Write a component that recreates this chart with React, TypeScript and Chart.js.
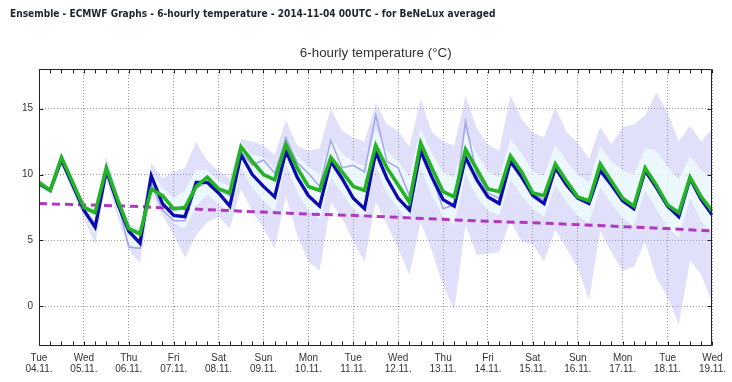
import React, { useEffect, useRef } from "react";
import { Chart, registerables } from "chart.js";

Chart.register(...registerables);

const TITLE = "Ensemble - ECMWF Graphs - 6-hourly temperature - 2014-11-04 00UTC - for BeNeLux averaged";
const SUBTITLE = "6-hourly temperature (\u00B0C)";

const dayNames = ["Tue", "Wed", "Thu", "Fri", "Sat", "Sun", "Mon", "Tue", "Wed", "Thu", "Fri", "Sat", "Sun", "Mon", "Tue", "Wed"];
const dayDates = ["04.11.", "05.11.", "06.11.", "07.11.", "08.11.", "09.11.", "10.11.", "11.11.", "12.11.", "13.11.", "14.11.", "15.11.", "16.11.", "17.11.", "18.11.", "19.11."];
const yTickValues = [0, 5, 10, 15];

// 6-hourly steps (61 values, 04.11. 00UTC .. 19.11. 00UTC)
const blueSeries = [
  9.3, 8.8, 11.1, 9.2, 7.3, 6.0, 10.3, 7.8, 5.7, 4.8, 9.9, 7.8,
  6.9, 6.8, 9.4, 9.4, 8.6, 7.6, 11.5, 10.0, 9.1, 8.3, 11.8, 9.8,
  8.4, 7.6, 11.0, 9.7, 8.2, 7.4, 11.7, 9.7, 8.2, 7.3, 11.8, 9.8,
  8.1, 7.6, 11.3, 9.6, 8.3, 7.8, 11.0, 9.8, 8.4, 7.8, 10.5, 9.2,
  8.2, 7.8, 10.3, 9.2, 8.0, 7.4, 10.3, 9.0, 7.6, 6.8, 9.7, 8.1,
  6.9,
];
const greenSeries = [
  9.4, 8.8, 11.3, 9.4, 7.5, 7.1, 10.5, 8.1, 5.9, 5.5, 8.9, 8.4,
  7.4, 7.5, 9.1, 9.8, 8.9, 8.6, 12.1, 11.0, 10.0, 9.6, 12.3, 10.5,
  9.1, 8.8, 11.3, 10.2, 9.1, 8.8, 12.2, 10.5, 9.2, 7.9, 12.4, 10.5,
  8.7, 8.3, 11.9, 10.4, 8.9, 8.7, 11.4, 10.2, 8.6, 8.4, 10.8, 9.5,
  8.3, 8.0, 10.8, 9.5, 8.2, 7.6, 10.5, 9.2, 7.7, 7.1, 9.8, 8.3,
  7.2,
];
const lilacSeries = [
  9.4, 8.8, 11.2, 9.3, 7.3, 6.3, 10.6, 8.0, 4.5, 4.4, 9.3, 7.3,
  6.5, 6.5, 9.0, 9.4, 8.9, 8.4, 11.7, 10.7, 11.1, 10.1, 12.8, 10.9,
  10.1, 9.1, 12.6, 10.5, 10.7, 10.2, 14.5, 11.0, 10.5, 8.4, 12.2, 9.9,
  7.4, 7.7, 14.0, 10.0, 8.6, 8.2, 11.2, 10.0, 8.5, 8.1, 10.6, 9.3,
  8.2, 7.9, 10.5, 9.3, 8.1, 7.5, 10.4, 9.1, 7.6, 7.0, 9.7, 8.2,
  7.0,
];
const spreadMax = [
  9.7, 9.1, 11.6, 9.8, 7.8, 7.3, 11.3, 8.6, 6.3, 5.8, 10.9, 9.7,
  10.2, 10.5, 12.5, 11.0, 10.3, 9.7, 12.7, 12.5, 12.2, 11.5, 14.1, 12.2,
  11.8, 12.0, 15.0, 13.3, 12.8, 12.5, 15.4, 13.8, 13.3, 12.1, 15.7, 13.2,
  12.5, 12.2, 16.0, 13.5, 12.3, 11.8, 16.0, 14.2, 13.2, 12.8, 15.1, 13.2,
  12.4, 11.2, 13.6, 12.3, 13.6, 13.8, 14.5, 16.2, 14.7, 12.5, 13.7, 12.5,
  13.5,
];
const spreadMin = [
  9.0, 8.5, 10.8, 8.7, 6.7, 4.7, 9.6, 6.8, 4.3, 3.3, 8.6, 6.9,
  5.4, 3.7, 5.4, 6.4, 6.8, 5.9, 8.9, 7.2, 5.9, 4.4, 8.4, 5.4,
  3.4, 2.7, 7.9, 6.7, 4.9, 3.4, 7.9, 6.2, 4.4, 2.4, 6.4, 4.2,
  1.6, -0.3, 6.2, 3.9, 4.0, 4.1, 6.5, 4.9, 4.7, 3.4, 5.8, 4.4,
  2.9, 0.5, 5.7, 4.1, 2.7, 3.0, 4.9, 2.2, 0.7, -1.4, 3.5, 2.4,
  0.2,
];
const quartileHigh = [
  9.6, 9.0, 11.5, 9.6, 7.6, 7.2, 10.8, 8.3, 6.1, 5.6, 10.2, 9.0,
  8.2, 8.8, 10.4, 10.3, 9.5, 9.1, 12.4, 11.5, 11.3, 10.5, 13.0, 11.4,
  10.6, 10.0, 12.8, 11.6, 11.0, 10.6, 13.4, 11.8, 11.0, 9.8, 13.5, 11.6,
  10.2, 9.8, 13.2, 11.6, 10.2, 9.8, 12.7, 11.6, 10.2, 9.9, 12.3, 11.0,
  10.0, 9.4, 12.2, 11.0, 10.3, 10.0, 12.0, 11.8, 10.6, 9.6, 11.4, 10.3,
  9.8,
];
const quartileLow = [
  9.1, 8.6, 10.9, 9.0, 7.0, 5.5, 10.0, 7.3, 4.8, 4.2, 8.8, 7.2,
  6.3, 5.9, 7.6, 8.5, 7.8, 7.0, 10.5, 9.0, 8.0, 7.2, 10.8, 8.6,
  7.3, 6.6, 9.8, 8.6, 7.4, 6.7, 10.6, 8.6, 7.4, 6.4, 10.5, 8.4,
  6.8, 6.2, 10.0, 8.3, 7.3, 6.9, 9.6, 8.4, 7.4, 6.8, 9.2, 7.9,
  6.9, 6.3, 9.0, 7.8, 6.7, 6.1, 8.8, 7.4, 6.0, 5.2, 8.2, 6.5,
  5.4,
];
// daily values (00UTC of each day)
const climateSeries = [7.8, 7.7, 7.6, 7.45, 7.3, 7.15, 7.0, 6.9, 6.75, 6.6, 6.45, 6.35, 6.2, 6.05, 5.9, 5.72];

const stepsPerDay = 4;

const toPts = (arr: number[]) => arr.map((v, i) => ({ x: i, y: v }));

const framePlugin = {
  id: "frameTicks",
  afterDatasetsDraw(chart: any) {
    const { ctx, chartArea: a, scales } = chart;
    ctx.save();
    ctx.strokeStyle = "#222";
    ctx.lineWidth = 1;
    const L = Math.round(a.left) + 0.5;
    const R = Math.round(a.right) - 0.5;
    const T = Math.round(a.top) + 0.5;
    const B = Math.round(a.bottom) - 0.5;
    ctx.beginPath();
    ctx.rect(L, T, R - L, B - T);
    ctx.stroke();
    ctx.beginPath();
    const n = blueSeries.length;
    for (let i = 0; i < n; i++) {
      const px = Math.round(scales.x.getPixelForValue(i)) + 0.5;
      ctx.moveTo(px, B);
      ctx.lineTo(px, B - 4);
      ctx.moveTo(px, T);
      ctx.lineTo(px, T + 4);
    }
    yTickValues.forEach((v) => {
      const py = Math.round(scales.y.getPixelForValue(v)) + 0.5;
      ctx.moveTo(L, py);
      ctx.lineTo(L + 4, py);
      ctx.moveTo(R, py);
      ctx.lineTo(R - 4, py);
    });
    ctx.stroke();
    ctx.restore();
  },
};

const titlePlugin = {
  id: "titles",
  afterDraw(chart: any) {
    const { ctx, chartArea: a } = chart;
    ctx.save();
    const fam1 = '"DejaVu Sans Condensed", "DejaVu Sans", sans-serif';
    ctx.font = `bold 10px ${fam1}`;
    const w1 = ctx.measureText(TITLE).width;
    const s1 = Math.min(11, (10 * 486) / w1);
    ctx.font = `bold ${s1}px ${fam1}`;
    ctx.fillStyle = "#1c2430";
    ctx.textAlign = "left";
    ctx.textBaseline = "alphabetic";
    ctx.fillText(TITLE, 10, 17);

    const fam2 = '"Liberation Sans", Arial, sans-serif';
    ctx.font = `12px ${fam2}`;
    const w2 = ctx.measureText(SUBTITLE).width;
    const s2 = Math.min(14, (12 * 152) / w2);
    ctx.font = `${s2}px ${fam2}`;
    ctx.fillStyle = "#333";
    ctx.textAlign = "center";
    ctx.fillText(SUBTITLE, (a.left + a.right) / 2, 57);
    ctx.restore();
  },
};

export default function App() {
  const ref = useRef<HTMLCanvasElement | null>(null);

  useEffect(() => {
    if (!ref.current) return;
    const lineBase = { pointRadius: 0, tension: 0, borderJoinStyle: "miter" as const };
    const chart = new Chart(ref.current, {
      type: "line",
      data: {
        datasets: [
          {
            label: "control",
            data: toPts(greenSeries),
            borderColor: "#22b422",
            borderWidth: 3.6,
            fill: false,
            order: 0,
            ...lineBase,
          },
          {
            label: "hres",
            data: toPts(blueSeries),
            borderColor: "#0a0ab0",
            borderWidth: 3.3,
            fill: false,
            order: 1,
            ...lineBase,
          },
          {
            label: "climate",
            data: climateSeries.map((v, d) => ({ x: d * stepsPerDay, y: v })),
            borderColor: "#b238c2",
            borderWidth: 3,
            borderDash: [8, 5],
            fill: false,
            order: 2,
            ...lineBase,
          },
          {
            label: "median",
            data: toPts(lilacSeries),
            borderColor: "#a6a6ec",
            borderWidth: 1.6,
            fill: false,
            order: 3,
            ...lineBase,
          },
          {
            label: "q75",
            data: toPts(quartileHigh),
            borderWidth: 0,
            borderColor: "rgba(0,0,0,0)",
            backgroundColor: "rgba(240,255,255,0.75)",
            fill: "+1",
            order: 4,
            ...lineBase,
          },
          {
            label: "q25",
            data: toPts(quartileLow),
            borderWidth: 0,
            borderColor: "rgba(0,0,0,0)",
            fill: false,
            order: 5,
            ...lineBase,
          },
          {
            label: "max",
            data: toPts(spreadMax),
            borderWidth: 0,
            borderColor: "rgba(0,0,0,0)",
            backgroundColor: "rgba(160,160,242,0.32)",
            fill: "+1",
            order: 6,
            ...lineBase,
          },
          {
            label: "min",
            data: toPts(spreadMin),
            borderWidth: 0,
            borderColor: "rgba(0,0,0,0)",
            fill: false,
            order: 7,
            ...lineBase,
          },
        ],
      },
      options: {
        animation: false,
        responsive: false,
        maintainAspectRatio: false,
        layout: { padding: { top: 69, right: 18, left: 0, bottom: 0 } },
        plugins: {
          legend: { display: false },
          tooltip: { enabled: false },
          title: { display: false },
        },
        scales: {
          x: {
            type: "linear",
            min: 0,
            max: blueSeries.length - 1,
            afterFit: (s: any) => {
              s.height = 36;
            },
            ticks: {
              stepSize: 1,
              autoSkip: false,
              maxRotation: 0,
              padding: 6,
              color: "#333",
              font: { family: '"Liberation Sans", Arial, sans-serif', size: 10, lineHeight: 1.15 },
              callback: (value: any) => {
                const v = Number(value);
                if (v % stepsPerDay !== 0) return "";
                const d = v / stepsPerDay;
                return [dayNames[d], dayDates[d]];
              },
            },
            grid: {
              drawTicks: false,
              lineWidth: 1,
              color: (c: any) =>
                c.tick && c.tick.value % stepsPerDay === 0 ? "#9a9a9a" : "rgba(0,0,0,0)",
            },
            border: { display: false, dash: [1, 2] },
          },
          y: {
            min: -3,
            max: 18,
            afterFit: (s: any) => {
              s.width = 39;
            },
            afterBuildTicks: (s: any) => {
              s.ticks = yTickValues.map((v) => ({ value: v }));
            },
            ticks: {
              padding: 6,
              color: "#333",
              font: { family: '"Liberation Sans", Arial, sans-serif', size: 10 },
            },
            grid: { drawTicks: false, lineWidth: 1, color: "#9a9a9a" },
            border: { display: false, dash: [1, 2] },
          },
        },
      },
      plugins: [framePlugin, titlePlugin],
    } as any);
    return () => chart.destroy();
  }, []);

  return (
    <div style={{ position: "absolute", left: 0, top: 0, width: 732, height: 382, background: "#fff" }}>
      <canvas ref={ref} width={732} height={382} style={{ display: "block", width: 732, height: 382 }} />
    </div>
  );
}
